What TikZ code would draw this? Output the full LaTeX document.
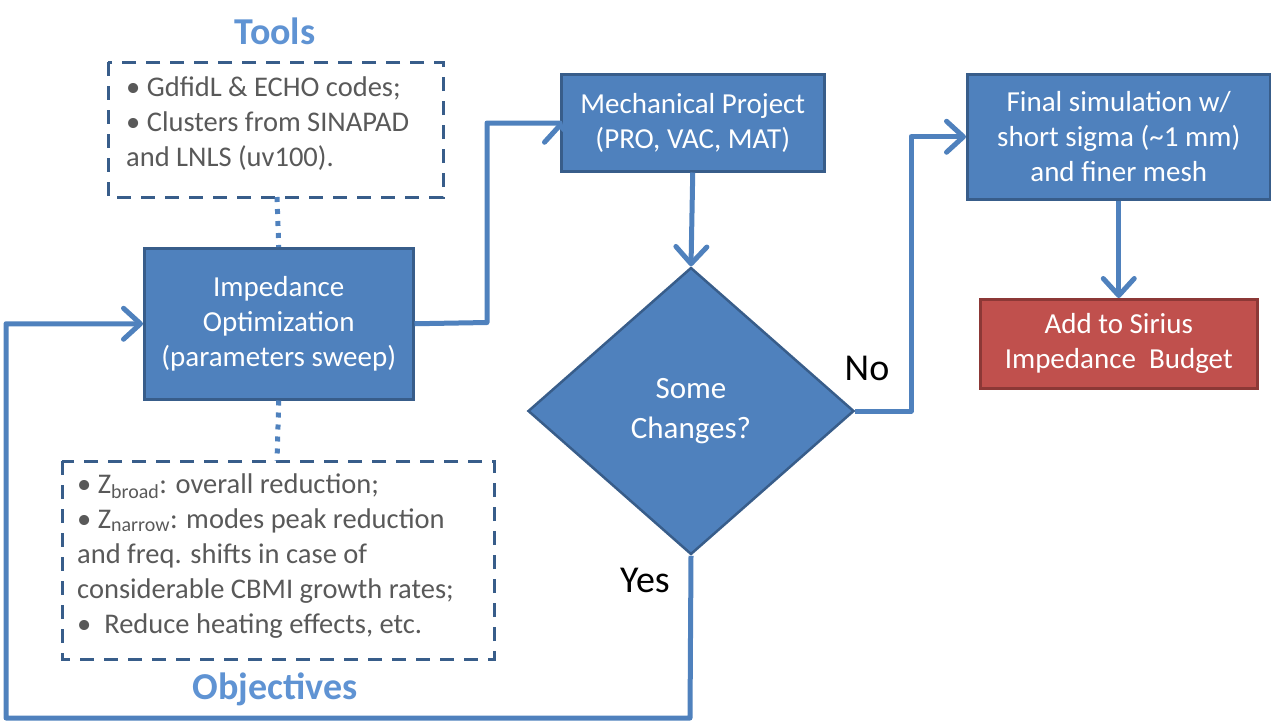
\documentclass[tikz,border=0pt]{standalone}
\usepackage{fontspec}
\setmainfont{Carlito}
\usetikzlibrary{arrows.meta,shapes.geometric}
\definecolor{boxfill}{HTML}{4F81BD}
\definecolor{boxline}{HTML}{385D8A}
\definecolor{redfill}{HTML}{C0504D}
\definecolor{redline}{HTML}{8C3836}
\definecolor{graytext}{HTML}{595959}
\definecolor{titleblue}{HTML}{5F93D3}
\tikzset{
  x=1pt, y=-1pt,
  procbox/.style={draw=boxline, fill=boxfill, line width=2.5pt, text=white, align=center,
    font=\fontsize{29}{35}\selectfont, inner sep=0pt, anchor=north west},
  redbox/.style={procbox, draw=redline, fill=redfill},
  dashbox/.style={draw=boxline, line width=3pt, dash pattern=on 14pt off 10pt},
  notetext/.style={text=graytext, align=left, font=\fontsize{28.5}{35}\selectfont, inner sep=0pt},
  flow/.style={draw=boxfill, line width=5pt, line join=round},
  arr/.style={flow, -{Straight Barb[length=17pt,width=31pt,line width=5pt,round]}},
  dotline/.style={draw=boxfill, line width=5pt, dash pattern=on 5pt off 7pt},
  titletext/.style={text=titleblue, font=\fontsize{38}{42}\selectfont\bfseries},
  answer/.style={text=black, font=\fontsize{38}{42}\selectfont},
}
\begin{document}
\begin{tikzpicture}
\useasboundingbox (0,0) rectangle (1271,724);

% dashed boxes
\draw[dashbox] (108,62) rectangle (443,197);
\draw[dashbox] (62,461) rectangle (494,659);
\coordinate (toolsB) at (277,197);
\coordinate (objT) at (277,461);

% titles
\node[titletext] (tools) at (275,31) {Tools};
\node[titletext] (obj) at (275,689) {Objectives};

% note texts
\node[notetext, anchor=north west] (tooltxt) at (126,77) {\textbullet{} GdfidL \& ECHO codes;\\ \textbullet{} Clusters from SINAPAD\\ and LNLS (uv100).};
\node[notetext, anchor=north west] (objtxt) at (77,473) {\textbullet{} Z\textsubscript{broad}: overall reduction;\\ \textbullet{} Z\textsubscript{narrow}: modes peak reduction\\ and freq. shifts in case of\\ considerable CBMI growth rates;\\ \textbullet{}\ \ Reduce heating effects, etc.};

% process boxes
\node[procbox, minimum width=269pt, minimum height=151pt] (imp) at (143,247) {Impedance\\ Optimization\\ (parameters sweep)};
\node[procbox, minimum width=263pt, minimum height=97pt] (mech) at (560,73) {Mechanical Project\\ (PRO, VAC, MAT)};
\node[procbox, minimum width=303pt, minimum height=125pt] (final) at (966,73) {Final simulation w/\\ short sigma (\textasciitilde1 mm)\\ and finer mesh};
\node[redbox, minimum width=277pt, minimum height=89pt] (budget) at (979,298) {Add to Sirius\\ Impedance\ \ Budget};

\node[draw=boxline, fill=boxfill, line width=2.5pt, diamond, aspect=1.14, minimum width=326pt, minimum height=287pt, inner sep=0pt,
  text=white, align=center, font=\fontsize{31}{40}\selectfont] (dec) at (691,411) {Some\\ Changes?};

% dotted connectors
\draw[dotline] (toolsB) -- (imp.north);
\draw[dotline] (imp.south) -- (objT);

% flows
\draw[arr] (imp.east) -- (487,322.5) |- (mech.west |- 0,123) -- (mech.west);
\draw[arr] (mech.south) -- (dec.north);
\draw[arr] (dec.east) -- (911,411) |- (final.west);
\draw[arr] (final.south) -- (budget.north -| final.south);
\coordinate (loopA) at (690,718);
\coordinate (loopB) at (6,718);
\draw[arr] (dec.south) -- (loopA) -- (loopB) |- (imp.west);

% answers
\node[answer] (no) at (867,368) {No};
\node[answer] (yes) at (645,580) {Yes};
\end{tikzpicture}
\end{document}
